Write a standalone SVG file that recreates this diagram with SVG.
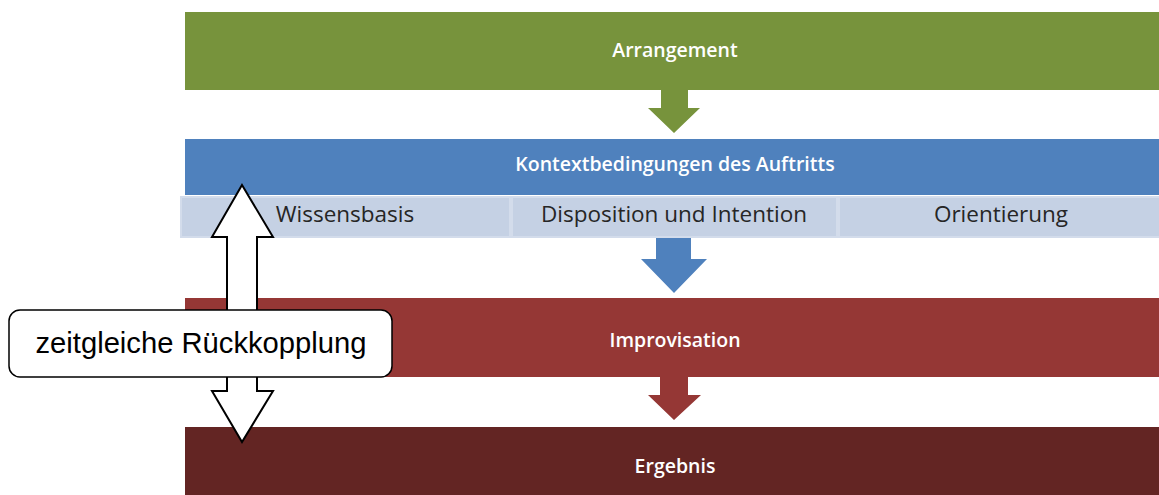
<svg xmlns="http://www.w3.org/2000/svg" width="1159" height="495" viewBox="0 0 1159 495">
<style>
.title{font-family:"Open Sans","Liberation Sans",sans-serif;font-size:19.5px;font-weight:600;fill:#ffffff;text-anchor:middle}
.lbl{font-family:"Open Sans","Liberation Sans",sans-serif;font-size:22.5px;fill:#262626;text-anchor:middle}
.cell{fill:#C5D1E4;stroke:#D3DCEB;stroke-width:2}
.callout{font-family:"Liberation Sans",Arial,sans-serif;font-size:29.2px;fill:#000000;text-anchor:middle}
.dbl{fill:#ffffff;stroke:#000000;stroke-width:2;stroke-linejoin:miter}
</style>
<rect width="1159" height="495" fill="#ffffff"/>
<g id="arrangement">
<rect x="185" y="12" width="974" height="78" fill="#77933C"/>
<text class="title" x="675" y="57">Arrangement</text>
</g>
<g id="kontext">
<rect x="185" y="139" width="974" height="56" fill="#4F81BD"/>
<text class="title" x="675" y="171">Kontextbedingungen des Auftritts</text>
</g>
<g id="wissensbasis">
<rect class="cell" x="181" y="197" width="329" height="40"/>
<text class="lbl" x="345" y="222">Wissensbasis</text>
</g>
<g id="disposition">
<rect class="cell" x="512" y="197" width="325" height="40"/>
<text class="lbl" x="674" y="222">Disposition und Intention</text>
</g>
<g id="orientierung">
<rect class="cell" x="839" y="197" width="322" height="40"/>
<text class="lbl" x="1001" y="222">Orientierung</text>
</g>
<g id="improvisation">
<rect x="185" y="298" width="974" height="79" fill="#953735"/>
<text class="title" x="675" y="347">Improvisation</text>
</g>
<g id="ergebnis">
<rect x="185" y="427" width="974" height="68" fill="#632523"/>
<text class="title" x="675" y="473">Ergebnis</text>
</g>
<g id="connectors">
<polygon points="661,90 688,90 688,108 700,108 674,133 648,108 661,108" fill="#77933C"/>
<polygon points="656,238 691,238 691,259 707,259 674,293 641,259 656,259" fill="#4F81BD"/>
<polygon points="660,377 688,377 688,395 701,395 674,420 648,395 660,395" fill="#953735"/>
<polygon class="dbl" points="242,185 273,237 257,237 257,391 273,391 242,442 212,391 227,391 227,237 212,237"/>
</g>
<g id="rueckkopplung">
<rect x="9" y="310" width="383" height="67" rx="11" ry="11" fill="#ffffff" stroke="#000000" stroke-width="1.5"/>
<text class="callout" x="201" y="353">zeitgleiche Rückkopplung</text>
</g>
</svg>
